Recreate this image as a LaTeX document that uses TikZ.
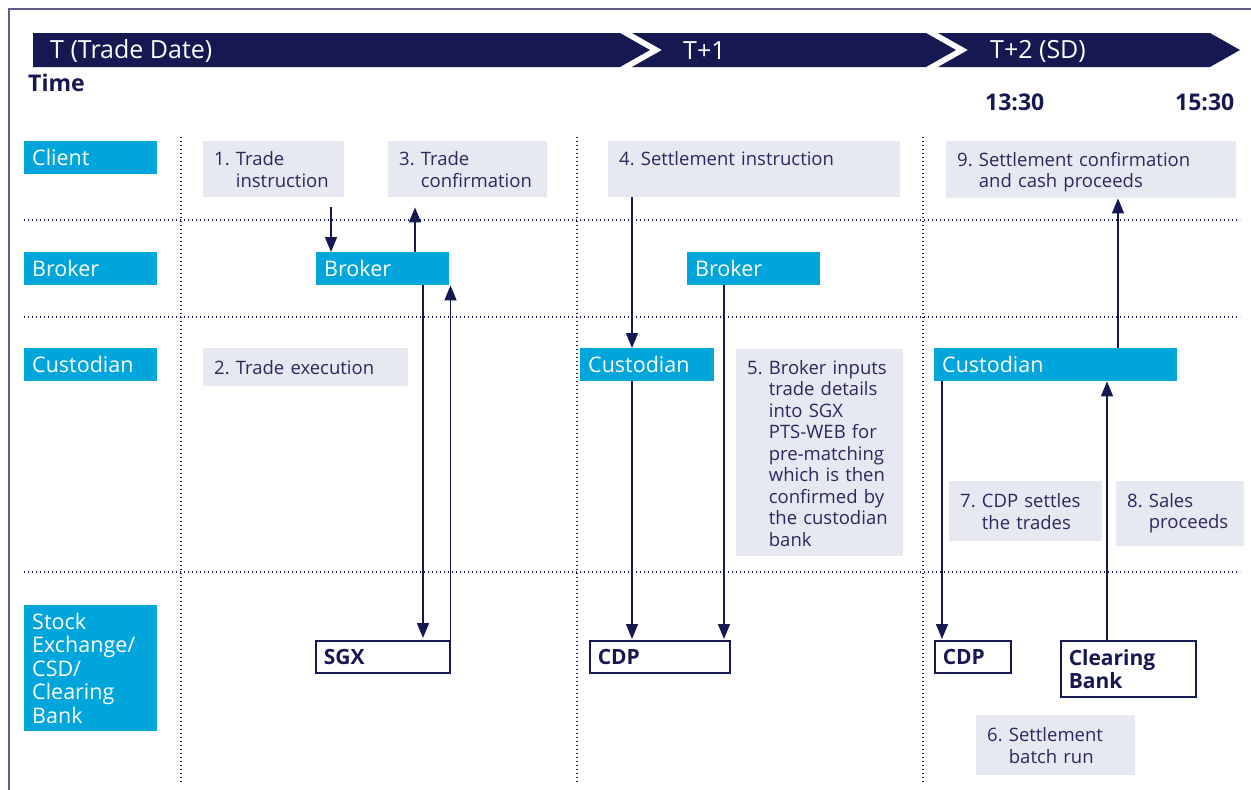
\documentclass[tikz,border=0pt]{standalone}
\usepackage{fontspec}
\setmainfont{Open Sans}
\usetikzlibrary{positioning, calc, arrows.meta}

\definecolor{sgNavy}{RGB}{22, 24, 82}
\definecolor{sgCyan}{RGB}{0, 165, 220}
\definecolor{sgGrey}{RGB}{230, 233, 242}
\definecolor{sgText}{RGB}{38, 42, 92}
\definecolor{sgFrame}{RGB}{95, 92, 140}

\newcommand{\numtext}[3][3pt]{\raisebox{-#1}[\height][\depth]{%
  \begin{tabular}{@{}l@{\ }l@{}}#2 & #3\end{tabular}}}

\begin{document}
\begin{tikzpicture}[
    x=1pt, y=-1pt,
    rowlabel/.style={fill=sgCyan, text=white, anchor=north west, inner xsep=8pt,
                     inner ysep=0pt, minimum height=33pt, text width=117pt,
                     align=left, font=\fontsize{21.5}{23.5}\selectfont},
    actor/.style={rowlabel, minimum height=33pt},
    stepbox/.style={fill=sgGrey, text=sgText, anchor=north west, inner xsep=11pt,
                    inner ysep=0pt, align=left, font=\fontsize{18.5}{21.5}\selectfont},
    venue/.style={draw=sgNavy, line width=1.5pt, fill=white, text=sgNavy,
                  anchor=north west, inner xsep=8pt, inner ysep=0pt, align=left,
                  minimum height=32pt, font=\fontsize{21}{23}\selectfont\bfseries},
    phase/.style={text=white, anchor=west, inner sep=0pt,
                  font=\fontsize{25}{28}\selectfont},
    clock/.style={text=sgNavy, anchor=west, inner sep=0pt,
                  font=\fontsize{23}{26}\selectfont\bfseries},
    grid/.style={sgNavy, line width=1.1pt, dash pattern=on 1.1pt off 2.9pt},
    flow/.style={-{Triangle[width=12pt,length=15pt]}, line width=1.5pt, draw=sgNavy},
  ]
    \useasboundingbox (0,0) rectangle (1251,790);
    \draw[sgFrame, line width=2pt] (9,790) -- (9,9) -- (1251,9);

    % time bar
    \fill[sgNavy] (33,33) -- (620,33) -- (650,50) -- (620,67) -- (33,67) -- cycle;
    \fill[sgNavy] (632,33) -- (926,33) -- (956,50) -- (926,67) -- (632,67) -- (662,50) -- cycle;
    \fill[sgNavy] (938,33) -- (1210,33) -- (1240,50) -- (1210,67) -- (938,67) -- (968,50) -- cycle;
    \node[phase] (pT) at (50,51) {T (Trade Date)};
    \node[phase] (pT1) at (683,51) {T+1};
    \node[phase] (pT2) at (990,51) {T+2 (SD)};
    \node[clock] (time) at (28,83) {Time};
    \node[clock] (t1330) at (985,102) {13:30};
    \node[clock] (t1530) at (1175,102) {15:30};

    % lanes
    \foreach \y in {220,317,572}
      \draw[grid] (24,\y) -- (1240,\y);
    \foreach \x in {181,577,923}
      \draw[grid] (\x,137) -- (\x,782);

    \node[rowlabel] (lClient) at (24,141) {Client};
    \node[rowlabel] (lBroker) at (24,252) {Broker};
    \node[rowlabel] (lCust) at (24,348) {Custodian};
    \node[rowlabel, minimum height=126pt] (lVenue) at (24,605)
      {Stock\\Exchange/\\CSD/\\Clearing\\Bank};

    % steps
    \node[stepbox, text width=119pt, minimum height=56pt] (s1) at (203,141)
      {\numtext{1.}{Trade\\ & instruction}};
    \node[stepbox, text width=183pt, minimum height=38pt] (s2) at (203,348)
      {\numtext{2.}{Trade execution}};
    \node[stepbox, text width=137pt, minimum height=56pt] (s3) at (388,141)
      {\numtext{3.}{Trade\\ & confirmation}};
    \node[stepbox, text width=270pt, minimum height=56pt] (s4) at (608,141)
      {\numtext{4.}{Settlement instruction\\ & \strut}};
    \node[stepbox, text width=145pt, minimum height=207pt] (s5) at (736,349)
      {\numtext{5.}{Broker inputs\\ & trade details\\ & into SGX\\ & PTS-WEB for\\
       & pre-matching\\ & which is then\\ & confirmed by\\ & the custodian\\ & bank}};
    \node[stepbox, text width=137pt, minimum height=60pt] (s6) at (976,715)
      {\numtext{6.}{Settlement\\ & batch run}};
    \node[stepbox, text width=131pt, minimum height=60pt] (s7) at (949,481)
      {\numtext{7.}{CDP settles\\ & the trades}};
    \node[stepbox, text width=106pt, minimum height=65pt] (s8) at (1116,481)
      {\numtext[0pt]{8.}{Sales\\ & proceeds}};
    \node[stepbox, text width=268pt, minimum height=57pt] (s9) at (946,141)
      {\numtext{9.}{Settlement confirmation\\ & and cash proceeds}};

    % parties
    \node[actor, text width=117pt] (b1) at (316,252) {Broker};
    \node[actor, text width=117pt] (b2) at (687,252) {Broker};
    \node[actor, text width=118pt] (c1) at (580,348) {Custodian};
    \node[actor, text width=227pt] (c2) at (934,348) {Custodian};

    \node[venue, text width=118pt] (v1) at (315,640) {SGX};
    \node[venue, text width=124pt] (v2) at (589,640) {CDP};
    \node[venue, text width=60pt] (v3) at (934,640) {CDP};
    \node[venue, text width=119pt, minimum height=56pt] (v4) at (1060,640) {Clearing\\Bank};

    % flows
    \draw[flow, shorten <=10pt] (s1.south -| 331,0) -- (b1.north -| 331,0);
    \draw[flow, shorten >=10pt] (b1.north -| 415,0) -- (s3.south -| 415,0);
    \draw[flow, shorten >=2pt] (b1.south -| 423,0) -- (v1.north -| 423,0);
    \draw[flow] (v1.north east) -- (b1.south -| v1.north east);
    \draw[flow] (s4.south -| 632,0) -- (c1.north -| 632,0);
    \draw[flow, shorten >=1pt] (c1.south -| 632,0) -- (v2.north -| 632,0);
    \draw[flow, shorten >=1pt] (b2.south -| 724,0) -- (v2.north -| 724,0);
    \draw[flow, shorten >=1pt] (c2.south -| 942,0) -- (v3.north -| 942,0);
    \draw[flow] (v4.north -| 1107,0) -- (c2.south -| 1107,0);
    \draw[flow] (c2.north -| 1118,0) -- (s9.south -| 1118,0);
  \end{tikzpicture}
\end{document}
